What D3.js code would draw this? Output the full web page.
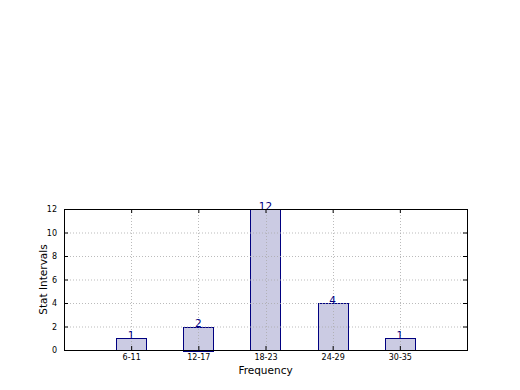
<!DOCTYPE html>
<html>
<head>
<meta charset="utf-8">
<script src="https://cdn.jsdelivr.net/npm/d3@7"></script>
<style>
body { margin: 0; background: #fff; }
svg text { font-family: "DejaVu Sans", sans-serif; }
</style>
</head>
<body>
<div id="chart"></div>
<script>
// chart values
var categories = ['6-11', '12-17', '18-23', '24-29', '30-35'];
var counts     = [1, 2, 12, 4, 1];
var yTicks     = [0, 2, 4, 6, 8, 10, 12];

var width  = 520,
	height = 390;
var margin = {top: 209, right: 53, bottom: 40, left: 64};
var viewWidth  = width  - margin.left - margin.right,
	viewHeight = height - margin.top  - margin.bottom;

var svg = d3.select('#chart').append('svg')
	.attr('width', width)
	.attr('height', height);

var vis = svg.append('g')
	.attr('transform', 'translate(' + margin.left + ',' + margin.top + ')');

// bars sit at positions 1..5, axis spans 0..6
var xScale = d3.scaleLinear()
	.domain([0, categories.length + 1])
	.range([0, viewWidth]);
var yScale = d3.scaleLinear()
	.domain([0, 12])
	.range([viewHeight, 0]);

var barW = xScale(0.45) - xScale(0);

// bars (semi-transparent look, grid shows through)
vis.append('g').attr('class', 'bars')
	.selectAll('rect')
	.data(counts)
	.enter().append('rect')
	.attr('x', function(d, i) { return Math.round(xScale(i + 1) - barW / 2) + 0.5; })
	.attr('y', function(d) { return Math.round(yScale(d)) + 0.5; })
	.attr('width', Math.round(barW))
	.attr('height', function(d) { return Math.round(viewHeight - yScale(d)); })
	.attr('fill', '#cbcbe3')
	.attr('stroke', '#000080')
	.attr('stroke-width', 1);

// grid
var grid = vis.append('g').attr('class', 'grid')
	.attr('stroke', '#aaaaaa')
	.attr('stroke-opacity', 0.8)
	.attr('stroke-dasharray', '1,2');
grid.selectAll('line.h')
	.data(yTicks.slice(1, -1))
	.enter().append('line')
	.attr('class', 'h')
	.attr('x1', 0).attr('x2', viewWidth)
	.attr('y1', function(d) { return yScale(d) + 0.5; })
	.attr('y2', function(d) { return yScale(d) + 0.5; });
grid.selectAll('line.v')
	.data(categories)
	.enter().append('line')
	.attr('class', 'v')
	.attr('y1', 0).attr('y2', viewHeight)
	.attr('x1', function(d, i) { return Math.round(xScale(i + 1)) + 0.5; })
	.attr('x2', function(d, i) { return Math.round(xScale(i + 1)) + 0.5; });

// value labels
vis.append('g').attr('class', 'labels')
	.selectAll('text')
	.data(counts)
	.enter().append('text')
	.attr('x', function(d, i) { return xScale(i + 1); })
	.attr('y', function(d) { return yScale(d) + 0.5; })
	.attr('text-anchor', 'middle')
	.attr('font-size', 10.5)
	.attr('fill', '#000080')
	.text(function(d) { return d; });

// axes: ticks inward, mirrored on top/right
var yAxisLeft = d3.axisLeft(yScale).tickValues(yTicks).tickSize(-4).tickPadding(7);
var yAxisRight = d3.axisRight(yScale).tickValues(yTicks).tickSize(-4).tickFormat('');
var xAxisBottom = d3.axisBottom(xScale)
	.tickValues(d3.range(1, categories.length + 1))
	.tickFormat(function(d) { return categories[d - 1]; })
	.tickSize(-4).tickPadding(4);
var xAxisTop = d3.axisTop(xScale)
	.tickValues(d3.range(1, categories.length + 1))
	.tickSize(-4).tickFormat('');

vis.append('g').attr('class', 'axis').call(yAxisLeft);
vis.append('g').attr('class', 'axis')
	.attr('transform', 'translate(' + viewWidth + ',0)').call(yAxisRight);
vis.append('g').attr('class', 'axis')
	.attr('transform', 'translate(0,' + viewHeight + ')').call(xAxisBottom);
vis.append('g').attr('class', 'axis').call(xAxisTop);

vis.selectAll('.axis .domain').remove();
vis.selectAll('.axis text')
	.attr('font-size', 8)
	.attr('fill', '#000')
	.style('font-family', '"DejaVu Sans", sans-serif');
vis.selectAll('.axis line').attr('stroke', '#000');

// frame
vis.append('rect')
	.attr('x', 0.5).attr('y', 0.5)
	.attr('width', viewWidth).attr('height', viewHeight)
	.attr('fill', 'none')
	.attr('stroke', '#000');

// axis titles
svg.append('text')
	.attr('x', margin.left + viewWidth / 2)
	.attr('y', 374)
	.attr('text-anchor', 'middle')
	.attr('font-size', 10.5)
	.text('Frequency');
svg.append('text')
	.attr('transform', 'translate(47,' + (margin.top + viewHeight / 2) + ') rotate(-90)')
	.attr('text-anchor', 'middle')
	.attr('font-size', 10.5)
	.text('Stat Intervals');
</script>
</body>
</html>
